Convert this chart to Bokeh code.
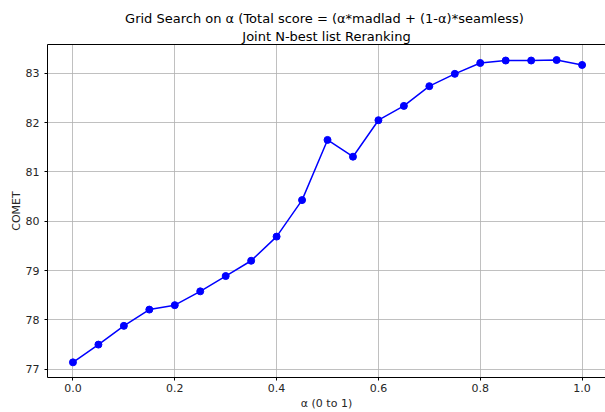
from bokeh.plotting import figure
from bokeh.models import Range1d, FixedTicker, Title, PrintfTickFormatter, ColumnDataSource, LinearAxis
from bokeh.embed import file_html
from bokeh.resources import INLINE

alpha = [0.0, 0.05, 0.1, 0.15, 0.2, 0.25, 0.3, 0.35, 0.4, 0.45, 0.5,
         0.55, 0.6, 0.65, 0.7, 0.75, 0.8, 0.85, 0.9, 0.95, 1.0]
comet = [77.14, 77.50, 77.88, 78.21, 78.30, 78.58, 78.89, 79.20, 79.69, 80.43, 81.65,
         81.31, 82.05, 82.34, 82.74, 82.99, 83.21, 83.26, 83.26, 83.27, 83.17]
x_ticks = [0.0, 0.2, 0.4, 0.6, 0.8, 1.0]
y_ticks = [77, 78, 79, 80, 81, 82, 83]
title_main = "Grid Search on \u03b1 (Total score = (\u03b1*madlad +  (1-\u03b1)*seamless)"
title_sub = "Joint N-best list Reranking"
x_label = "\u03b1 (0 to 1)"
y_label = "COMET"

FONT = "DejaVu Sans"

src = ColumnDataSource(data=dict(alpha=alpha, comet=comet))

p = figure(width=605, height=412, output_backend="svg", toolbar_location=None,
           x_range=Range1d(-0.05, 1.046), y_range=Range1d(76.833, 83.585),
           min_border_left=47, min_border_right=0, min_border_top=44, min_border_bottom=33)

p.title = None
xax = p.below[0]
yax = p.left[0]

# top spine (no ticks, no labels)
top_spine = LinearAxis(ticker=FixedTicker(ticks=[]), axis_line_color="black",
                       axis_line_width=1, major_tick_out=0, major_tick_in=0,
                       minor_tick_out=0, minor_tick_in=0, major_label_standoff=0,
                       major_label_text_font_size="0px")
p.add_layout(top_spine, "above")

sub = Title(text=title_sub, align="center", text_font=FONT, text_font_size="13px",
            text_font_style="normal", text_color="black", standoff=2, offset=0)
main = Title(text=title_main, align="center", text_font=FONT, text_font_size="13px",
             text_font_style="normal", text_color="black", standoff=0, offset=0)
p.add_layout(sub, "above")
p.add_layout(main, "above")

p.line("alpha", "comet", source=src, line_color="#0000ff", line_width=1.5)
p.scatter("alpha", "comet", source=src, size=7, fill_color="#0000ff", line_color="#0000ff")

p.outline_line_color = None
p.background_fill_color = "white"
p.border_fill_color = "white"

for ax in (xax, yax):
    ax.axis_line_color = "black"
    ax.axis_line_width = 1
    ax.major_tick_line_color = "black"
    ax.major_tick_out = 3
    ax.major_tick_in = 0
    ax.minor_tick_line_color = None
    ax.major_label_text_font = FONT
    ax.major_label_text_font_size = "11px"
    ax.major_label_text_color = "#262626"
    ax.axis_label_text_font = FONT
    ax.axis_label_text_font_size = "11px"
    ax.axis_label_text_font_style = "normal"
    ax.axis_label_text_color = "#262626"

xax.ticker = FixedTicker(ticks=x_ticks)
xax.formatter = PrintfTickFormatter(format="%.1f")
xax.axis_label = x_label
xax.major_label_standoff = 3
xax.axis_label_standoff = 2

yax.ticker = FixedTicker(ticks=y_ticks)
yax.axis_label = y_label
yax.major_label_standoff = 5
yax.axis_label_standoff = 0

for g in (p.xgrid[0], p.ygrid[0]):
    g.grid_line_color = "#b0b0b0"
    g.grid_line_width = 1
    g.grid_line_alpha = 0.8
p.xgrid[0].ticker = FixedTicker(ticks=x_ticks)
p.ygrid[0].ticker = FixedTicker(ticks=y_ticks)

open("out.html", "w").write(file_html(p, INLINE))
